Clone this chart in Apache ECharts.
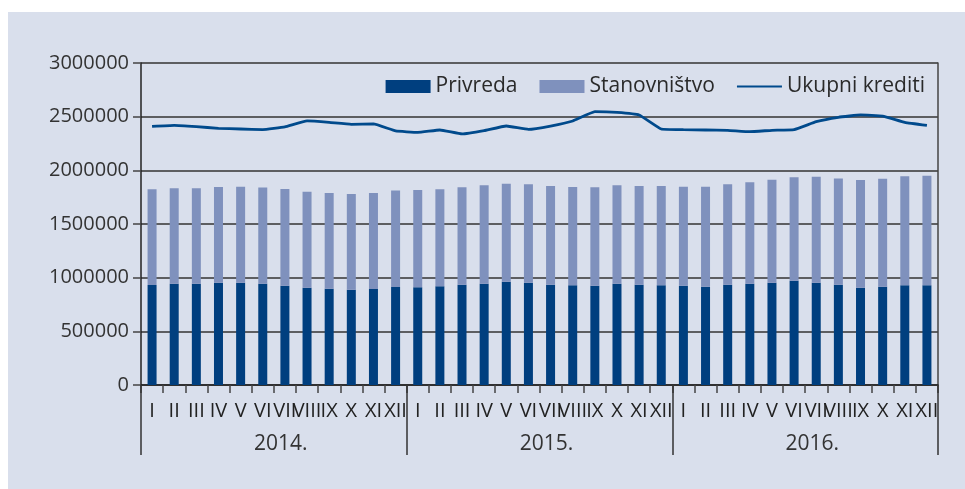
<!DOCTYPE html>
<html>
<head>
<meta charset="utf-8">
<script src="https://cdn.jsdelivr.net/npm/echarts@6/dist/echarts.min.js"></script>
<style>
  html, body { margin: 0; padding: 0; background: #fff; }
  #chart { position: absolute; left: 8px; top: 12px; width: 957px; height: 477px; background: #d9dfec; }
</style>
</head>
<body>
<div id="chart"></div>
<script>
// months (roman) repeated over three years
const months = ['I', 'II', 'III', 'IV', 'V', 'VI', 'VII', 'VIII', 'IX', 'X', 'XI', 'XII'];
const years = ['2014.', '2015.', '2016.'];
const categories = years.flatMap(y => months.map(m => m + ' ' + y));

const privreda = [
  932000, 944000, 944000, 953000, 953000, 944000, 925000, 907000, 897000, 888000, 894000, 913000,
  910000, 919000, 935000, 944000, 963000, 953000, 935000, 929000, 925000, 944000, 935000, 929000,
  925000, 916000, 935000, 944000, 953000, 972000, 953000, 935000, 907000, 916000, 929000, 929000
];
const stanovnistvo = [
  891000, 888000, 888000, 892000, 895000, 895000, 901000, 894000, 892000, 892000, 895000, 898000,
  907000, 904000, 907000, 916000, 913000, 917000, 919000, 916000, 917000, 916000, 919000, 925000,
  923000, 932000, 935000, 944000, 960000, 963000, 988000, 990000, 1003000, 1006000, 1015000, 1021000
];
const ukupniKrediti = [
  2410000, 2419000, 2407000, 2391000, 2385000, 2379000, 2404000, 2460000, 2447000, 2429000, 2432000, 2367000,
  2354000, 2376000, 2339000, 2370000, 2413000, 2382000, 2413000, 2460000, 2547000, 2540000, 2516000, 2385000,
  2379000, 2376000, 2373000, 2360000, 2373000, 2379000, 2453000, 2494000, 2516000, 2506000, 2447000, 2419000
];

const font = 'Open Sans';
const axisColor = '#222';
// thin bar icon so the line legend has no dot on it
const lineIcon = 'path://M0,0 L0.01,0 L0,0.01 Z M0,5.5 L45,5.5 L45,7.5 L0,7.5 Z M45,13 L44.99,13 L45,12.99 Z';

const chart = echarts.init(document.getElementById('chart'), null, { renderer: 'canvas' });

chart.setOption({
  animation: false,
  textStyle: { fontFamily: font },
  grid: { left: 133, right: 27, top: 51, bottom: 104 },
  legend: {
    right: 35,
    top: 59,
    itemWidth: 45,
    itemHeight: 13,
    itemGap: 22,
    textStyle: { fontSize: 21, color: '#2a2a2a', fontFamily: font },
    data: [
      { name: 'Privreda', icon: 'rect' },
      { name: 'Stanovništvo', icon: 'rect' },
      { name: 'Ukupni krediti', icon: lineIcon }
    ]
  },
  xAxis: [
    {
      type: 'category',
      data: categories,
      axisLine: { lineStyle: { color: axisColor, width: 1.5 } },
      axisTick: { show: true, length: 8, lineStyle: { color: '#444', width: 1.5 } },
      axisLabel: {
        interval: 0,
        margin: 16,
        fontSize: 20,
        color: '#222',
        formatter: v => v.split(' ')[0]
      }
    },
    {
      type: 'category',
      position: 'bottom',
      data: years,
      axisLine: { show: false },
      axisTick: { show: true, length: 70, lineStyle: { color: '#333', width: 1.5 } },
      axisLabel: { margin: 49, fontSize: 21, color: '#333', padding: [0, 0, 0, 14] }
    }
  ],
  yAxis: [
    {
      type: 'value',
      min: 0,
      max: 3000000,
      interval: 500000,
      axisLine: { show: true, lineStyle: { color: axisColor, width: 1.5 } },
      axisTick: { show: true, length: 8, lineStyle: { color: '#444', width: 1.5 } },
      axisLabel: { margin: 12, fontSize: 20, color: '#333', formatter: v => String(v) },
      splitLine: { lineStyle: { color: '#333', width: 1.5 } }
    },
    {
      // right frame line only
      type: 'value',
      position: 'right',
      min: 0,
      max: 3000000,
      interval: 500000,
      axisLine: { show: true, lineStyle: { color: '#444', width: 1.5 } },
      axisTick: { show: false },
      axisLabel: { show: false },
      splitLine: { show: false }
    }
  ],
  series: [
    {
      name: 'Privreda',
      type: 'bar',
      stack: 'krediti',
      barWidth: 9,
      itemStyle: { color: '#003f7f' },
      data: privreda
    },
    {
      name: 'Stanovništvo',
      type: 'bar',
      stack: 'krediti',
      barWidth: 9,
      itemStyle: { color: '#7f91bd' },
      data: stanovnistvo
    },
    {
      name: 'Ukupni krediti',
      type: 'line',
      symbol: 'none',
      smooth: 0.1,
      lineStyle: { color: '#004a8c', width: 2.8 },
      itemStyle: { color: '#004a8c' },
      data: ukupniKrediti
    }
  ]
});
</script>
</body>
</html>
